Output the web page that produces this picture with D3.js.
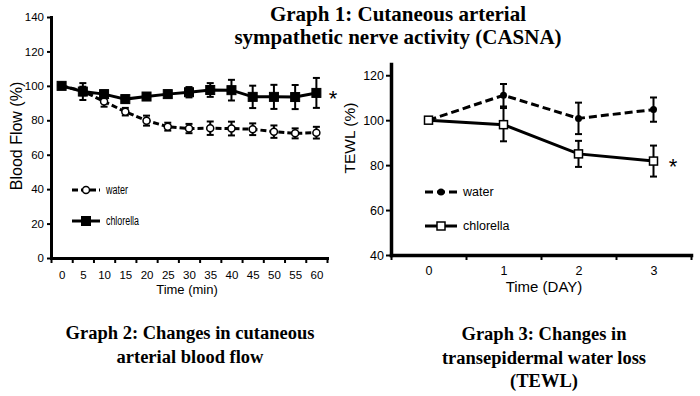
<!DOCTYPE html>
<html>
<head>
<meta charset="utf-8">
<script src="https://cdn.jsdelivr.net/npm/d3@7"></script>
<style>
  body { margin: 0; background: #fff; }
  svg { display: block; }
  .axis path, .axis line { stroke: #000; }
  .axis text { fill: #000; font-family: "Liberation Sans", Arial, sans-serif; }
</style>
</head>
<body>
<svg id="chart" width="700" height="396"></svg>
<script>
// Graph 2: blood flow (%) over minutes
var minutes = [0, 5, 10, 15, 20, 25, 30, 35, 40, 45, 50, 55, 60];
var flowWater = [100, 97, 90.9, 85.0, 79.8, 76.3, 75.2, 75.4, 75.2, 74.8, 73.4, 72.4, 72.8];
var flowWaterErr = [0, 2.5, 3, 2.2, 2.9, 2.3, 2.7, 3.9, 4, 3.4, 3.6, 2.9, 3.4];
var flowChlorella = [100, 96.7, 95.2, 92.3, 93.8, 95.2, 96.3, 97.6, 97.5, 93.6, 93.6, 93.5, 95.9];
var flowChlorellaErr = [0, 4.9, 2, 2, 1.5, 2, 3, 4, 6, 6.5, 7, 7, 8.7];
var flowTicks = [0, 20, 40, 60, 80, 100, 120, 140];

// Graph 3: TEWL (%) over days
var days = [0, 1, 2, 3];
var tewlWater = [100, 111.1, 100.8, 104.7];
var tewlWaterErr = [0, 5, 7, 5.4];
var tewlChlorella = [100, 98, 85, 81.8];
var tewlChlorellaErr = [0, 7.4, 5.8, 6.9];
var tewlTicks = [40, 60, 80, 100, 120];

var sans = '"Liberation Sans", Arial, sans-serif';
var serif = '"Liberation Serif", "Times New Roman", serif';

var svg = d3.select('#chart');

function zip(xs, vs, es) {
  return xs.map(function(t, i) { return { t: t, v: vs[i], e: es[i] }; });
}

function styleAxis(g, w) {
  g.select('.domain').attr('stroke-width', w).attr('stroke-linecap', 'square');
  g.selectAll('.tick line').attr('stroke-width', 2);
}

function drawSeries(g, data, x, y, opt) {
  g.append('path')
      .datum(data)
      .attr('fill', 'none')
      .attr('stroke', '#000')
      .attr('stroke-width', opt.lineWidth)
      .attr('stroke-dasharray', opt.dash || null)
      .attr('d', d3.line().x(function(d) { return x(d.t); }).y(function(d) { return y(d.v); }));

  var bars = g.selectAll(null)
      .data(data.filter(function(d) { return d.e > 0; }))
      .enter().append('g')
      .attr('stroke', '#000')
      .attr('stroke-width', 2);
  bars.append('line')
      .attr('x1', function(d) { return x(d.t); })
      .attr('x2', function(d) { return x(d.t); })
      .attr('y1', function(d) { return y(d.v - d.e); })
      .attr('y2', function(d) { return y(d.v + d.e); });
  [-1, 1].forEach(function(s) {
    bars.append('line')
        .attr('x1', function(d) { return x(d.t) - opt.cap; })
        .attr('x2', function(d) { return x(d.t) + opt.cap; })
        .attr('y1', function(d) { return y(d.v + s * d.e); })
        .attr('y2', function(d) { return y(d.v + s * d.e); });
  });

  data.forEach(function(d) { marker(g, x(d.t), y(d.v), opt.marker); });
}

function marker(g, cx, cy, m) {
  if (m.shape === 'square') {
    g.append('rect')
        .attr('x', cx - m.size / 2).attr('y', cy - m.size / 2)
        .attr('width', m.size).attr('height', m.size)
        .attr('fill', m.fill).attr('stroke', '#000').attr('stroke-width', m.stroke);
  } else {
    g.append('circle')
        .attr('cx', cx).attr('cy', cy).attr('r', m.size / 2)
        .attr('fill', m.fill).attr('stroke', '#000').attr('stroke-width', m.stroke);
  }
}

// squeeze = width the label should take (the left legend uses a narrow face)
function legendItem(g, x0, x1, yy, opt, label, size, squeeze) {
  g.append('line')
      .attr('x1', x0).attr('x2', x1).attr('y1', yy).attr('y2', yy)
      .attr('stroke', '#000').attr('stroke-width', opt.lineWidth)
      .attr('stroke-dasharray', opt.dash || null);
  marker(g, (x0 + x1) / 2, yy, opt.marker);
  var t = g.append('text')
      .attr('x', x1 + 6).attr('y', yy).attr('dy', '0.35em')
      .attr('font-family', sans).attr('font-size', size)
      .text(label);
  if (squeeze) t.attr('textLength', squeeze).attr('lengthAdjust', 'spacingAndGlyphs');
}

// ---------- left panel ----------
var x1 = d3.scaleLinear().domain([-2.5, 62.5]).range([51, 327]);
var y1 = d3.scaleLinear().domain([0, 140]).range([258, 17]);
var g1 = svg.append('g');

g1.append('g').attr('class', 'axis').attr('transform', 'translate(0,258)')
    .call(d3.axisBottom(x1).tickValues(d3.range(-2.5, 63, 5)).tickSize(5).tickSizeOuter(0).tickFormat(''))
    .call(styleAxis, 3);
g1.append('g').attr('class', 'axis').attr('transform', 'translate(0,258)')
    .call(d3.axisBottom(x1).tickValues(minutes).tickSize(0).tickPadding(12.5))
    .call(function(g) { g.select('.domain').remove(); g.selectAll('text').attr('font-size', 11.5); });
g1.append('g').attr('class', 'axis').attr('transform', 'translate(51,0)')
    .call(d3.axisLeft(y1).tickValues(flowTicks).tickSize(4).tickSizeOuter(0).tickPadding(3))
    .call(styleAxis, 3)
    .call(function(g) { g.selectAll('text').attr('font-size', 11.5); });

g1.append('text')
    .attr('transform', 'translate(22,136) rotate(-90)')
    .attr('text-anchor', 'middle')
    .attr('font-family', sans).attr('font-size', 16)
    .text('Blood Flow (%)');
g1.append('text')
    .attr('x', 187).attr('y', 294)
    .attr('text-anchor', 'middle')
    .attr('font-family', sans).attr('font-size', 13)
    .text('Time (min)');

var flowWaterOpt = { lineWidth: 3, dash: '6,3', cap: 3.5, marker: { shape: 'circle', size: 7, fill: '#fff', stroke: 1.5 } };
var flowChlorellaOpt = { lineWidth: 3, cap: 3.5, marker: { shape: 'square', size: 9, fill: '#000', stroke: 1 } };
drawSeries(g1, zip(minutes, flowWater, flowWaterErr), x1, y1, flowWaterOpt);
drawSeries(g1, zip(minutes, flowChlorella, flowChlorellaErr), x1, y1, flowChlorellaOpt);

legendItem(g1, 72, 100, 190, flowWaterOpt, 'water', 12, 22);
legendItem(g1, 72, 100, 221, flowChlorellaOpt, 'chlorella', 12, 33);

g1.append('text')
    .attr('x', 333).attr('y', 106)
    .attr('text-anchor', 'middle')
    .attr('font-family', sans).attr('font-size', 22)
    .text('*');

// ---------- right panel ----------
var x2 = d3.scaleLinear().domain([-0.5, 3.5]).range([391, 691]);
var y2 = d3.scaleLinear().domain([40, 125]).range([255, 64]);
var g2 = svg.append('g');

g2.append('g').attr('class', 'axis').attr('transform', 'translate(0,255)')
    .call(d3.axisBottom(x2).tickValues([-0.5, 0.5, 1.5, 2.5, 3.5]).tickSize(5).tickSizeOuter(0).tickFormat(''))
    .call(styleAxis, 3.5);
g2.append('g').attr('class', 'axis').attr('transform', 'translate(0,255)')
    .call(d3.axisBottom(x2).tickValues(days).tickFormat(d3.format('d')).tickSize(0).tickPadding(11))
    .call(function(g) { g.select('.domain').remove(); g.selectAll('text').attr('font-size', 12.5); });
g2.append('g').attr('class', 'axis').attr('transform', 'translate(391,0)')
    .call(d3.axisLeft(y2).tickValues(tewlTicks).tickSize(5).tickSizeOuter(0).tickPadding(2))
    .call(styleAxis, 3.5)
    .call(function(g) { g.selectAll('text').attr('font-size', 12.5); });

g2.append('text')
    .attr('transform', 'translate(355,138) rotate(-90)')
    .attr('text-anchor', 'middle')
    .attr('font-family', sans).attr('font-size', 15.5)
    .text('TEWL (%)');
g2.append('text')
    .attr('x', 544).attr('y', 292)
    .attr('text-anchor', 'middle')
    .attr('font-family', sans).attr('font-size', 15)
    .text('Time (DAY)');

var tewlWaterOpt = { lineWidth: 3, dash: '8,4', cap: 3.5, marker: { shape: 'circle', size: 7, fill: '#000', stroke: 0 } };
var tewlChlorellaOpt = { lineWidth: 3, cap: 3.5, marker: { shape: 'square', size: 8, fill: '#fff', stroke: 1.5 } };
drawSeries(g2, zip(days, tewlWater, tewlWaterErr), x2, y2, tewlWaterOpt);
drawSeries(g2, zip(days, tewlChlorella, tewlChlorellaErr), x2, y2, tewlChlorellaOpt);

legendItem(g2, 425, 457, 192, tewlWaterOpt, 'water', 12.5);
legendItem(g2, 425, 457, 226, tewlChlorellaOpt, 'chlorella', 12.5);

g2.append('text')
    .attr('x', 673).attr('y', 174)
    .attr('text-anchor', 'middle')
    .attr('font-family', sans).attr('font-size', 22)
    .text('*');

// ---------- titles ----------
function title(lines, cx, y0, step, size) {
  lines.forEach(function(s, i) {
    svg.append('text')
        .attr('x', cx).attr('y', y0 + i * step)
        .attr('text-anchor', 'middle')
        .attr('font-family', serif).attr('font-weight', 'bold').attr('font-size', size)
        .text(s);
  });
}
title(['Graph 1: Cutaneous arterial', 'sympathetic nerve activity (CASNA)'], 398, 21, 23, 21);
title(['Graph 2: Changes in cutaneous', 'arterial blood flow'], 190, 339, 24, 18.5);
title(['Graph 3: Changes in', 'transepidermal water loss', '(TEWL)'], 544, 340, 23.5, 18.5);
</script>
</body>
</html>
